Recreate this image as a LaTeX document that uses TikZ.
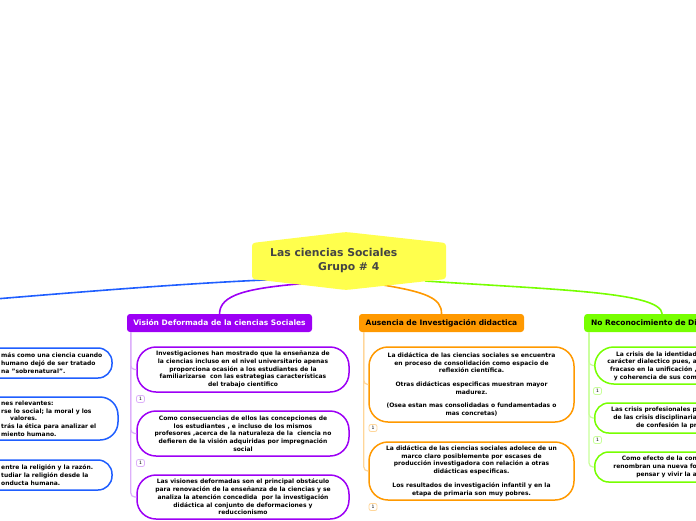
\documentclass[tikz,border=0pt]{standalone}
\usepackage{fontspec}
\setmainfont{DejaVu Sans}
\usetikzlibrary{calc,positioning}
\definecolor{rootc}{HTML}{FFFF4D}
\definecolor{inkc}{HTML}{444444}
\definecolor{bluec}{HTML}{1F5EFF}
\definecolor{purc}{HTML}{9D00F5}
\definecolor{purl}{HTML}{DDB0FA}
\definecolor{orc}{HTML}{FF9900}
\definecolor{orl}{HTML}{FFD699}
\definecolor{grc}{HTML}{77FF00}
\definecolor{grl}{HTML}{C8FF99}
\tikzset{
  br/.style={line width=1.6pt},
  topic/.style={rounded corners=3pt,inner sep=0pt,minimum height=18pt,font=\fontsize{7.5}{9}\bfseries},
  leaf/.style={draw,line width=1.5pt,rounded corners=19pt,fill=white,align=center,inner sep=0pt,font=\fontsize{6}{7.7}\bfseries},
  frag/.style={inner sep=0pt,font=\fontsize{6}{7.7}\bfseries},
  sub/.style={line width=1.2pt,rounded corners=4pt},
  tally/.style={draw,line width=0.8pt,rounded corners=2pt,fill=white,minimum width=8pt,minimum height=7pt,inner sep=0pt,font=\fontsize{4.5}{5}\selectfont}
}
\begin{document}
\begin{tikzpicture}[x=1pt,y=-1pt]
\useasboundingbox (0,0) rectangle (696,520);
\clip (0,0) rectangle (696,520);
\coordinate (c) at (348,261);
\coordinate (bl) at (-5,299);

% topics
\node[topic,fill=purc,text=white,minimum width=185pt] (vis) at (219.5,323) {Visión Deformada de la ciencias Sociales};
\node[topic,fill=orc,minimum width=165pt] (aus) at (441.5,323) {Ausencia de Investigación didactica};
\node[topic,fill=grc,text width=142pt,inner xsep=7pt,align=left,anchor=west] (noR) at (584,323) {No Reconocimiento de Di};

% branches from the centre
\draw[br,bluec] ($(c)+(-58,18)$) .. controls (200,282) and (80,292) .. (bl);
\draw[br,purc] ($(c)+(-38,22)$) .. controls (245,288) and (220,295) .. (vis.north);
\draw[br,orc] ($(c)+(35,24)$) .. controls (425,292) and (442,298) .. (aus.north);
\draw[br,grc] ($(c)+(77,20)$) .. controls (560,290) and (660,292) .. (noR.north);

\fill[rootc,rounded corners=3pt] (252,243) -- (346,232) -- (446,243) -- (446,279) -- (346,290) -- (252,279) -- cycle;
\node[anchor=west,align=left,inner sep=0pt,text=inkc,font=\fontsize{10.8}{14}\bfseries] (root) at (270,261) {Las ciencias Sociales\\\hspace*{48pt}Grupo \# 4};

% blue (cut at the left edge)
\node[leaf,draw=bluec,minimum width=212pt,minimum height=30pt,rounded corners=14pt] (b1) at (6,363) {};
\node[leaf,draw=bluec,minimum width=224pt,minimum height=43pt,rounded corners=18pt] (b2) at (6,418.5) {};
\node[leaf,draw=bluec,minimum width=212pt,minimum height=30pt,rounded corners=14pt] (b3) at (6,475) {};
\node[frag,anchor=west,align=left] (b1t) at (1,363) {más como una ciencia cuando\\humano dejó de ser tratado\\na "sobrenatural".};
\node[frag,anchor=west,align=left] (b2t) at (1,418.5) {nes relevantes:\\rse lo social; la moral y los\\\hspace*{9pt}valores.\\trás la ética para analizar el\\miento humano.};
\node[frag,anchor=west,align=left] (b3t) at (1,475) {entre la religión y la razón.\\tudiar la religión desde la\\onducta humana.};

% purple
\node[leaf,draw=purc,minimum width=212pt,minimum height=45pt] (v1) at (243,369.5) {Investigaciones han mostrado que la enseñanza de\\la ciencias incluso en el nivel universitario apenas\\proporciona ocasión a los estudiantes de la\\familiarizarse\ \ con las estrategias características\\del trabajo cientifico};
\node[leaf,draw=purc,minimum width=212pt,minimum height=45pt] (v2) at (243,433.5) {Como consecuencias de ellos las concepciones de\\los estudiantes , e incluso de los mismos\\profesores ,acerca de la naturaleza de la\ \ ciencia no\\defieren de la visión adquiridas por impregnación\\social};
\node[leaf,draw=purc,minimum width=212pt,minimum height=44pt] (v3) at (243,497) {Las visiones deformadas son el principal obstáculo\\para renovación de la enseñanza de la ciencias y se\\analiza la atención concedida\ \ por la investigación\\didáctica al conjunto de deformaciones y\\reduccionismo};
\draw[sub,purl] ($(vis.south west)+(4,0)$) |- (v1.west);
\draw[sub,purl] ($(vis.south west)+(4,0)$) |- (v2.west);
\draw[sub,purl] ($(vis.south west)+(4,0)$) |- (v3.west);
\node[tally,draw=purl] (v1n) at (140.5,399) {1};
\node[tally,draw=purl] (v2n) at (140.5,463) {1};

% orange
\node[leaf,draw=orc,minimum width=205pt,minimum height=75pt] (o1) at (471.5,384.5) {La didáctica de las ciencias sociales se encuentra\\en proceso de consolidación como espacio de\\reflexión científica.\\[6pt]Otras didácticas especificas muestran mayor\\madurez.\\[6pt](Osea estan mas consolidadas o fundamentadas o\\mas concretas)};
\node[leaf,draw=orc,minimum width=205pt,minimum height=58pt] (o2) at (471.5,471) {La didáctica de las ciencias sociales adolece de un\\marco claro posiblemente por escases de\\producción investigadora con relación a otras\\didácticas especificas.\\[6pt]Los resultados de investigación infantil y en la\\etapa de primaria son muy pobres.};
\draw[sub,orl] ($(aus.south west)+(5,0)$) |- (o1.west);
\draw[sub,orl] ($(aus.south west)+(5,0)$) |- (o2.west);
\node[tally,draw=orl] (o1n) at (373,428) {1};
\node[tally,draw=orl] (o2n) at (373,507) {1};

% green (cut at the right edge)
\node[leaf,draw=grc,minimum width=200pt,minimum height=37pt,anchor=west] (g1) at (594,365.5) {};
\node[leaf,draw=grc,minimum width=200pt,minimum height=30pt,anchor=west,rounded corners=14pt] (g2) at (594,418) {};
\node[leaf,draw=grc,minimum width=200pt,minimum height=30pt,anchor=west,rounded corners=14pt] (g3) at (594,467) {};
\draw[sub,grl] ($(noR.south west)+(5,0)$) |- (g1.west);
\draw[sub,grl] ($(noR.south west)+(5,0)$) |- (g2.west);
\draw[sub,grl] ($(noR.south west)+(5,0)$) |- (g3.west);
\node[frag,anchor=east,align=right] (g1t) at (697,366) {La crisis de la identidad\\carácter dialectico pues, a\\fracaso en la unificación ,\\y coherencia de sus com};
\node[frag,anchor=east,align=right] (g2t) at (697,418) {Las crisis profesionales p\\de las crisis disciplinaria\\de confesión la pr};
\node[frag,anchor=east,align=right] (g3t) at (697,467) {Como efecto de la con\\renombran una nueva fo\\pensar y vivir la a};
\node[tally,draw=grl] (g1n) at (597.5,391) {1};
\node[tally,draw=grl] (g2n) at (597.5,440) {1};
\end{tikzpicture}
\end{document}
